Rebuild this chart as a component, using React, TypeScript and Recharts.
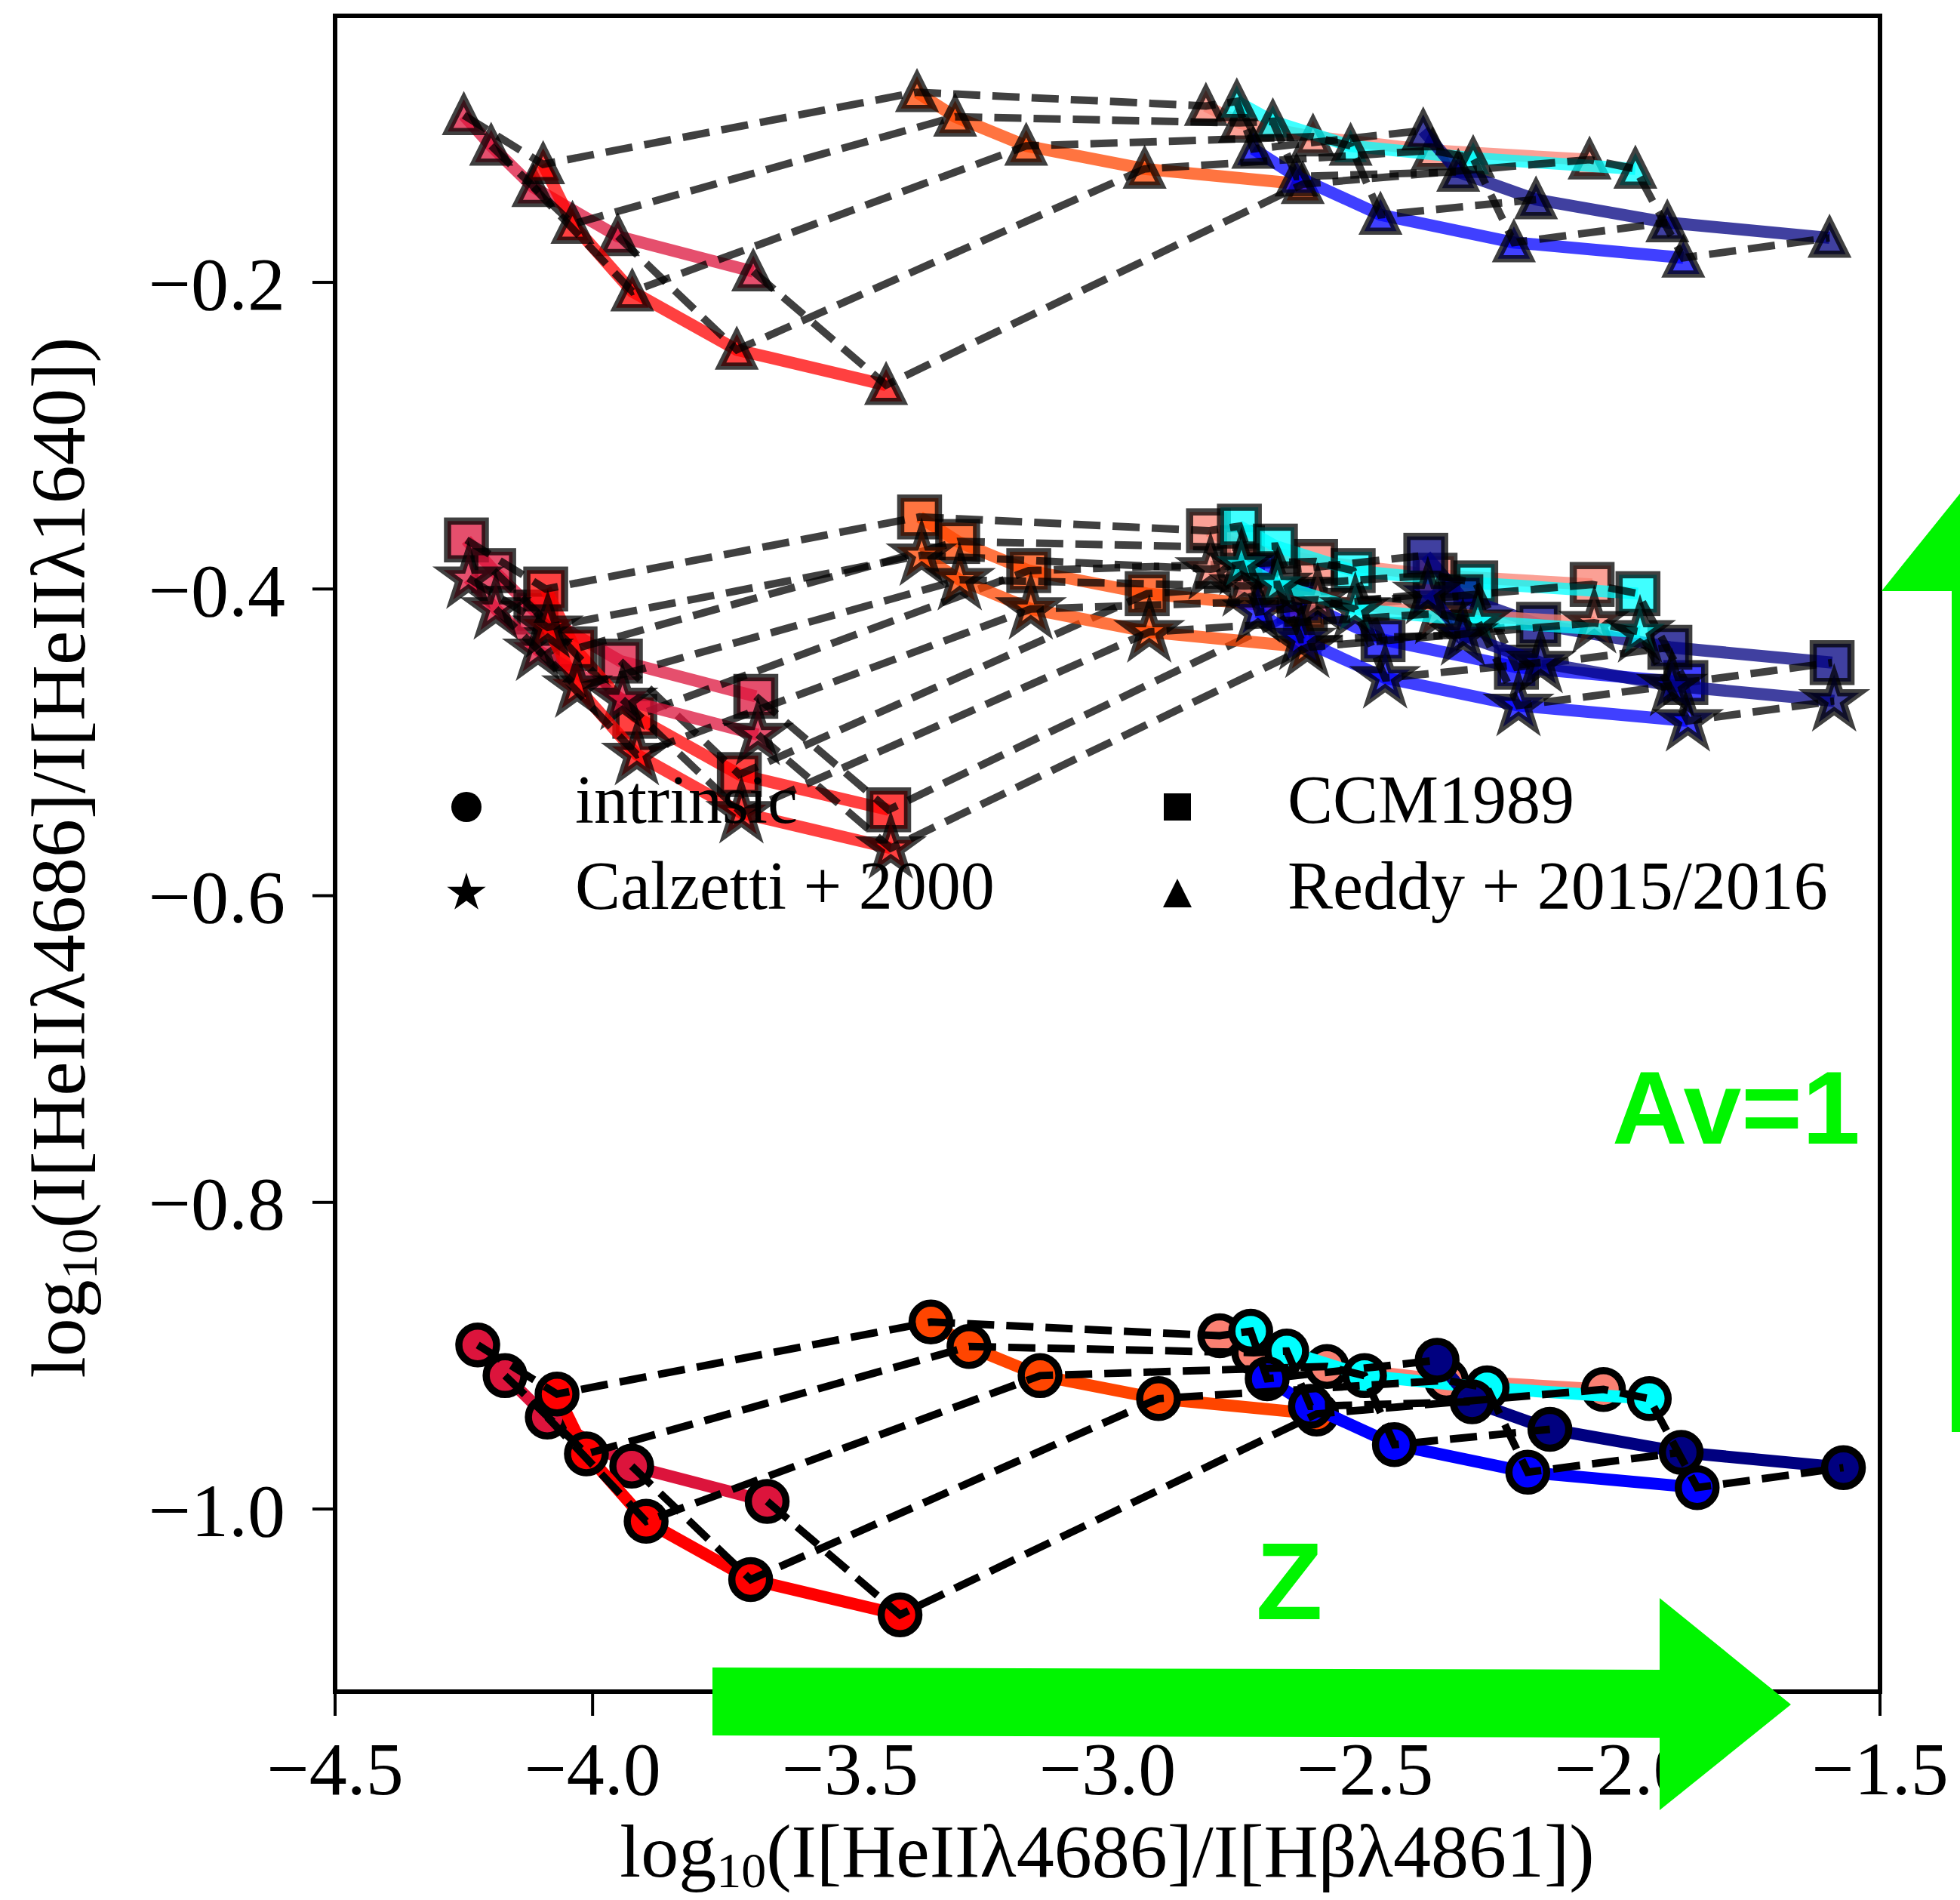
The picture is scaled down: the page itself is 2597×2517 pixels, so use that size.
import React from 'react';
import { ScatterChart, Scatter, XAxis, YAxis, ReferenceArea } from 'recharts';

// ---------- data ----------
// track colours, low -> high metallicity
const trackColors = ['#DC143C', '#FF0000', '#FF4500', '#FA8072', '#00FFFF', '#0000FF', '#000080'];

// each track: 5 points [log10(HeII4686/Hb), log10(HeII4686/HeII1640)]
const intrinsic = [
  [[-4.223, -0.893], [-4.170, -0.913], [-4.088, -0.940], [-3.924, -0.972], [-3.661, -0.995]],
  [[-4.069, -0.925], [-4.012, -0.964], [-3.896, -1.008], [-3.693, -1.046], [-3.403, -1.069]],
  [[-3.343, -0.878], [-3.269, -0.894], [-3.131, -0.913], [-2.901, -0.928], [-2.594, -0.938]],
  [[-2.782, -0.887], [-2.716, -0.898], [-2.574, -0.907], [-2.342, -0.916], [-2.037, -0.922]],
  [[-2.722, -0.884], [-2.652, -0.897], [-2.501, -0.913], [-2.263, -0.921], [-1.948, -0.928]],
  [[-2.690, -0.915], [-2.606, -0.933], [-2.443, -0.958], [-2.184, -0.976], [-1.855, -0.986]],
  [[-2.360, -0.903], [-2.292, -0.930], [-2.141, -0.948], [-1.886, -0.963], [-1.571, -0.973]],
];

const ccm1989 = [
  [[-4.245, -0.368], [-4.192, -0.388], [-4.110, -0.415], [-3.946, -0.447], [-3.683, -0.470]],
  [[-4.091, -0.400], [-4.034, -0.439], [-3.918, -0.483], [-3.715, -0.521], [-3.425, -0.544]],
  [[-3.365, -0.353], [-3.291, -0.369], [-3.153, -0.388], [-2.923, -0.403], [-2.616, -0.413]],
  [[-2.804, -0.362], [-2.738, -0.373], [-2.596, -0.382], [-2.364, -0.391], [-2.059, -0.397]],
  [[-2.744, -0.359], [-2.674, -0.372], [-2.523, -0.388], [-2.285, -0.396], [-1.970, -0.403]],
  [[-2.712, -0.390], [-2.628, -0.408], [-2.465, -0.433], [-2.206, -0.451], [-1.877, -0.461]],
  [[-2.382, -0.378], [-2.314, -0.405], [-2.163, -0.423], [-1.908, -0.438], [-1.593, -0.448]],
];

const calzetti2000 = [
  [[-4.241, -0.393], [-4.188, -0.413], [-4.106, -0.440], [-3.942, -0.472], [-3.679, -0.495]],
  [[-4.087, -0.425], [-4.030, -0.464], [-3.914, -0.508], [-3.711, -0.546], [-3.421, -0.569]],
  [[-3.361, -0.378], [-3.287, -0.394], [-3.149, -0.413], [-2.919, -0.428], [-2.612, -0.438]],
  [[-2.800, -0.387], [-2.734, -0.398], [-2.592, -0.407], [-2.360, -0.416], [-2.055, -0.422]],
  [[-2.740, -0.384], [-2.670, -0.397], [-2.519, -0.413], [-2.281, -0.421], [-1.966, -0.428]],
  [[-2.708, -0.415], [-2.624, -0.433], [-2.461, -0.458], [-2.202, -0.476], [-1.873, -0.486]],
  [[-2.378, -0.403], [-2.310, -0.430], [-2.159, -0.448], [-1.904, -0.463], [-1.589, -0.473]],
];

const reddy2015 = [
  [[-4.250, -0.091], [-4.197, -0.111], [-4.115, -0.138], [-3.951, -0.170], [-3.688, -0.193]],
  [[-4.096, -0.123], [-4.039, -0.162], [-3.923, -0.206], [-3.720, -0.244], [-3.430, -0.267]],
  [[-3.370, -0.076], [-3.296, -0.092], [-3.158, -0.111], [-2.928, -0.126], [-2.621, -0.136]],
  [[-2.809, -0.085], [-2.743, -0.096], [-2.601, -0.105], [-2.369, -0.114], [-2.064, -0.120]],
  [[-2.749, -0.082], [-2.679, -0.095], [-2.528, -0.111], [-2.290, -0.119], [-1.975, -0.126]],
  [[-2.717, -0.113], [-2.633, -0.131], [-2.470, -0.156], [-2.211, -0.174], [-1.882, -0.184]],
  [[-2.387, -0.101], [-2.319, -0.128], [-2.168, -0.146], [-1.913, -0.161], [-1.598, -0.171]],
];

const xTicks = [-4.5, -4.0, -3.5, -3.0, -2.5, -2.0, -1.5];
const yTicks = [-1.0, -0.8, -0.6, -0.4, -0.2];
const xDomain = [-4.5, -1.5];
const yDomain = [-1.1191, -0.0262];

const legendLabels = ['intrinsic', 'Calzetti + 2000', 'CCM1989', 'Reddy + 2015/2016'];

// ---------- styles ----------
const W = 2597;
const H = 2517;
const SERIF = '"Liberation Serif", "Times New Roman", serif';
const SANS = '"Liberation Sans", Arial, sans-serif';
const GREEN = '#00F500';

type Kind = 'circle' | 'square' | 'star' | 'triangle';

const starPts = (cx: number, cy: number, R: number) => {
  const r = R * 0.381966;
  const out: string[] = [];
  for (let k = 0; k < 10; k++) {
    const a = -Math.PI / 2 + (k * Math.PI) / 5;
    const rad = k % 2 === 0 ? R : r;
    out.push(`${cx + rad * Math.cos(a)},${cy + rad * Math.sin(a)}`);
  }
  return out.join(' ');
};

const markerEl = (kind: Kind, cx: number, cy: number, fill: string, alpha: number, strokeW: number, size: number) => {
  const common = {
    fill,
    fillOpacity: alpha,
    stroke: '#000',
    strokeOpacity: alpha,
    strokeWidth: strokeW,
    strokeLinejoin: 'miter' as const,
  };
  if (kind === 'circle') return <circle cx={cx} cy={cy} r={size} {...common} />;
  if (kind === 'square') return <rect x={cx - size} y={cy - size} width={2 * size} height={2 * size} {...common} />;
  if (kind === 'triangle')
    return <polygon points={`${cx},${cy - size} ${cx - size},${cy + size} ${cx + size},${cy + size}`} {...common} />;
  return <polygon points={starPts(cx, cy, size)} {...common} />;
};

const MARKER_SIZE: Record<Kind, number> = { circle: 25, square: 25, star: 35, triangle: 21.5 };

const makeShape = (kind: Kind, color: string, alpha: number) => (props: any) => {
  const { cx, cy } = props;
  if (cx == null || cy == null) return <g />;
  return markerEl(kind, cx, cy, color, alpha, 9.5, MARKER_SIZE[kind]);
};

const emptyShape = () => <g />;

const toPts = (track: number[][]) => track.map(([x, y]) => ({ x, y }));

type Group = { name: string; data: number[][][]; kind: Kind; alpha: number };
const groups: Group[] = [
  { name: 'intrinsic', data: intrinsic, kind: 'circle', alpha: 1 },
  { name: 'ccm', data: ccm1989, kind: 'square', alpha: 0.75 },
  { name: 'calzetti', data: calzetti2000, kind: 'star', alpha: 0.75 },
  { name: 'reddy', data: reddy2015, kind: 'triangle', alpha: 0.75 },
];

const fmt = (v: number) => (v < 0 ? '\u2212' : '') + Math.abs(v).toFixed(1);

export default function App() {
  const series: React.ReactNode[] = [];
  groups.forEach((g) => {
    g.data.forEach((track, ti) => {
      series.push(
        <Scatter
          key={`${g.name}-t${ti}`}
          data={toPts(track)}
          fill={trackColors[ti]}
          line={{ stroke: trackColors[ti], strokeWidth: 16, strokeOpacity: g.alpha }}
          lineType="joint"
          shape={makeShape(g.kind, trackColors[ti], g.alpha)}
          isAnimationActive={false}
        />
      );
    });
    for (let i = 0; i < 5; i++) {
      const pts = g.data.map((track) => ({ x: track[i][0], y: track[i][1] }));
      series.push(
        <Scatter
          key={`${g.name}-d${i}`}
          data={pts}
          fill="#000"
          line={{ stroke: '#000', strokeWidth: 10, strokeOpacity: g.alpha, strokeDasharray: '36 16' }}
          lineType="joint"
          shape={emptyShape}
          isAnimationActive={false}
        />
      );
    }
  });

  const legendKinds: Kind[] = ['circle', 'star', 'square', 'triangle'];
  const legendPos = [
    { mx: 618, my: 1069, tx: 762, ty: 1090 },
    { mx: 618, my: 1183, tx: 762, ty: 1204 },
    { mx: 1560, my: 1069, tx: 1706, ty: 1090 },
    { mx: 1560, my: 1183, tx: 1706, ty: 1204 },
  ];
  const legendSize: Record<Kind, number> = { circle: 20, square: 18, star: 27, triangle: 19 };

  return (
    <div style={{ position: 'absolute', left: 0, top: 0, width: W, height: H, background: '#fff' }}>
      <ScatterChart width={W} height={H} margin={{ top: 21, right: 106, bottom: 0, left: 0 }}>
        <XAxis
          type="number"
          dataKey="x"
          domain={xDomain}
          ticks={xTicks}
          interval={0}
          allowDataOverflow
          height={276}
          axisLine={false}
          tickLine={{ stroke: '#000', strokeWidth: 4 }}
          tickSize={32}
          tickMargin={33}
          tickFormatter={fmt}
          tick={{ fill: '#000', fontSize: 100, fontFamily: SERIF }}
        />
        <YAxis
          type="number"
          dataKey="y"
          domain={yDomain}
          ticks={yTicks}
          interval={0}
          allowDataOverflow
          width={444}
          axisLine={false}
          tickLine={{ stroke: '#000', strokeWidth: 4 }}
          tickSize={30}
          tickMargin={36}
          tickFormatter={fmt}
          tick={{ fill: '#000', fontSize: 100, fontFamily: SERIF }}
        />
        {series}
        <ReferenceArea
          x1={xDomain[0]}
          x2={xDomain[1]}
          y1={yDomain[0]}
          y2={yDomain[1]}
          fill="none"
          fillOpacity={0}
          stroke="#000"
          strokeWidth={6}
          ifOverflow="visible"
        />
      </ScatterChart>
      <svg
        width={W}
        height={H}
        style={{ position: 'absolute', left: 0, top: 0, pointerEvents: 'none' }}
      >
        {/* legend */}
        {legendKinds.map((k, i) => (
          <g key={`leg-${i}`}>
            {markerEl(k, legendPos[i].mx, legendPos[i].my, '#000', 1, 0, legendSize[k])}
            <text x={legendPos[i].tx} y={legendPos[i].ty} fontFamily={SERIF} fontSize={90} fill="#000">
              {legendLabels[i]}
            </text>
          </g>
        ))}
        {/* axis labels */}
        <text x={1467} y={2486} textAnchor="middle" fontFamily={SERIF} fontSize={100} fill="#000">
          log
          <tspan fontSize={66} dy={14}>10</tspan>
          <tspan dy={-14}>(I[HeIIλ4686]/I[Hβλ4861])</tspan>
        </text>
        <text
          x={112}
          y={1136}
          textAnchor="middle"
          fontFamily={SERIF}
          fontSize={102}
          fill="#000"
          transform="rotate(-90 112 1136)"
        >
          log
          <tspan fontSize={68} dy={16}>10</tspan>
          <tspan dy={-16}>(I[HeIIλ4686]/I[HeIIλ1640])</tspan>
        </text>
        {/* annotations */}
        <polygon
          points="944,2209 2199,2212 2199,2117 2373,2258 2199,2398 2199,2302 944,2299"
          fill={GREEN}
        />
        <polygon
          points="2586,1897 2586,783 2493,783 2633,609 2773,783 2678,783 2678,1897"
          fill={GREEN}
        />
        <text x={2136} y={1515} fontFamily={SANS} fontWeight="bold" fontSize={138} fill={GREEN}>
          Av=1
        </text>
        <text x={1664} y={2145} fontFamily={SANS} fontWeight="bold" fontSize={145} fill={GREEN}>
          Z
        </text>
      </svg>
    </div>
  );
}
